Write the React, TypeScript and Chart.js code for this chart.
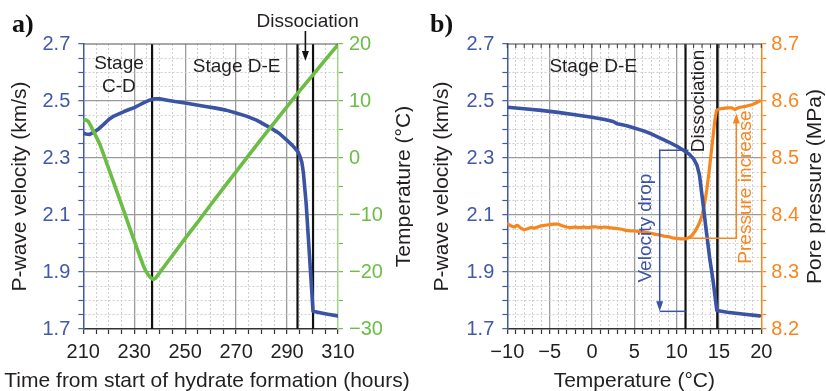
import React, { useEffect, useRef } from "react";
import { Chart, registerables } from "chart.js";
Chart.register(...registerables);

const FONT = '"Liberation Sans", Arial, Helvetica, sans-serif';
const SERIF = '"Liberation Serif", "Times New Roman", serif';
const BLUE = "#3a53a4";
const BLUE_AXIS = "#4159a9";
const GREEN = "#6cbd45";
const GREEN_AXIS = "#a3d68a";
const ORANGE = "#f7861f";
const INK = "#231f20";
const GRID_MAJOR = "#9b9b9b";
const GRID_MINOR = "#cfcfcf";

// ---------- Panel a: time (hours) ----------
const A_VEL_TIME = [210, 211, 212.5, 214, 216, 218, 220, 222, 224, 226, 228, 230, 232, 234, 236, 238, 240, 243, 246, 250, 254, 258, 262, 266, 270, 274, 278, 281, 284, 287, 290, 292, 294.3, 295.2, 295.8, 296.4, 296.9, 297.5, 298.5, 299.4, 300.2, 303, 306, 310];
const A_VEL = [2.388, 2.384, 2.383, 2.39, 2.402, 2.418, 2.435, 2.447, 2.455, 2.463, 2.47, 2.477, 2.486, 2.495, 2.503, 2.508, 2.508, 2.503, 2.498, 2.493, 2.487, 2.481, 2.475, 2.468, 2.458, 2.447, 2.433, 2.418, 2.403, 2.386, 2.362, 2.345, 2.322, 2.303, 2.285, 2.25, 2.2, 2.14, 2.0, 1.875, 1.762, 1.757, 1.752, 1.746];

const A_TEMP_TIME = [210, 211, 212, 213, 214, 215, 216.5, 218, 220, 222, 224, 226, 228, 230, 232, 233.5, 234.5, 235.5, 236.5, 237.5, 238.3, 239.2, 240, 245, 250, 255, 260, 265, 270, 275, 280, 285, 290, 295, 300, 305, 310];
const A_TEMP = [6.5, 6.7, 6.4, 5.6, 4.7, 3.8, 2.4, 0.6, -1.9, -4.4, -6.9, -9.4, -12.0, -14.5, -17.0, -18.8, -19.8, -20.5, -21.0, -21.3, -21.1, -20.6, -20.1, -17.1, -14.1, -11.2, -8.2, -5.3, -2.4, 0.5, 3.4, 6.2, 9.0, 11.8, 14.5, 17.2, 19.9];

const A_X_LABELS = [210, 230, 250, 270, 290, 310];
const V_LABELS = [1.7, 1.9, 2.1, 2.3, 2.5, 2.7];
const T_LABELS = [-30, -20, -10, 0, 10, 20];
const A_STAGE_LINES = [237, 294.1, 300.2];

// ---------- Panel b: temperature (°C) ----------
const B_TEMP = [-10, -8, -6, -4, -2, 0, 1.5, 2.5, 3, 4, 5, 6, 7, 8, 9, 10, 10.8, 11.5, 12, 12.4, 12.7, 12.95, 13.2, 13.5, 13.9, 14.3, 14.75, 16, 18, 19.8];
const B_VEL = [2.478, 2.473, 2.467, 2.46, 2.452, 2.443, 2.435, 2.428, 2.42, 2.414, 2.405, 2.396, 2.385, 2.371, 2.357, 2.342, 2.327, 2.313, 2.297, 2.275, 2.24, 2.18, 2.12, 2.045, 1.95, 1.87, 1.765, 1.759, 1.752, 1.746];

const B_P_TEMP = [-10, -9.6, -9.2, -8.8, -8.4, -8, -7.6, -7.2, -6.8, -6.4, -6, -5.5, -5, -4.5, -4, -3.5, -3, -2.5, -2, -1.5, -1, -0.5, 0, 0.5, 1, 1.5, 2, 2.5, 3, 3.5, 4, 4.5, 5, 5.5, 6, 6.5, 7, 7.5, 8, 8.5, 9, 9.5, 10, 10.5, 11, 11.4, 11.8, 12.2, 12.5, 12.8, 13.05, 13.3, 13.55, 13.8, 14.05, 14.3, 14.5, 14.7, 15, 15.5, 16, 16.5, 16.9, 17.1, 17.5, 18, 18.5, 19, 19.4, 19.8];
const B_PRES = [8.385, 8.381, 8.379, 8.382, 8.377, 8.374, 8.376, 8.378, 8.377, 8.379, 8.381, 8.382, 8.383, 8.384, 8.384, 8.381, 8.379, 8.378, 8.379, 8.378, 8.379, 8.378, 8.379, 8.379, 8.378, 8.379, 8.378, 8.377, 8.376, 8.375, 8.373, 8.372, 8.372, 8.371, 8.371, 8.369, 8.368, 8.366, 8.365, 8.363, 8.362, 8.36, 8.359, 8.358, 8.358, 8.36, 8.364, 8.372, 8.38, 8.39, 8.402, 8.42, 8.443, 8.472, 8.505, 8.537, 8.565, 8.583, 8.586, 8.587, 8.588, 8.588, 8.585, 8.587, 8.589, 8.59, 8.592, 8.594, 8.597, 8.6];

const B_X_LABELS = [-10, -5, 0, 5, 10, 15, 20];
const P_LABELS = [8.2, 8.3, 8.4, 8.5, 8.6, 8.7];
const B_STAGE_LINES = [11.05, 14.8];

// ---------- helpers ----------
const range = (a: number, b: number, s: number) =>
  Array.from({ length: Math.round((b - a) / s) + 1 }, (_, i) => Number((a + i * s).toFixed(6)));
const near = (a: number, b: number) => Math.abs(a - b) < 1e-6;
const inList = (v: any, list: number[]) => typeof v === "number" && list.some((l) => near(l, v));
const signed = (v: number) => (v < 0 ? "\u2212" + Math.abs(v) : String(v));

function makeAxis(o: any) {
  const horiz = o.position === "bottom";
  return {
    type: "linear",
    position: o.position,
    min: o.min,
    max: o.max,
    afterBuildTicks: (s: any) => {
      s.ticks = range(o.min, o.max, o.step).map((v) => ({ value: v }));
    },
    afterFit: (s: any) => {
      if (horiz) s.height = o.size;
      else s.width = o.size;
    },
    ticks: {
      autoSkip: false,
      maxRotation: 0,
      minRotation: 0,
      padding: o.padding,
      color: o.labelColor,
      font: { size: 20, family: FONT },
      callback: (v: number) => (inList(v, o.labels) ? o.fmt(v) : ""),
    },
    grid: {
      drawOnChartArea: o.gridOnArea,
      color: (c: any) => {
        const v = c.tick ? c.tick.value : undefined;
        if (v === undefined) return GRID_MINOR;
        if (near(v, o.min) || near(v, o.max)) return "rgba(0,0,0,0)";
        return inList(v, o.labels) ? GRID_MAJOR : GRID_MINOR;
      },
      lineWidth: (c: any) => (c.tick && inList(c.tick.value, o.labels) ? 1.3 : 1),
      drawTicks: true,
      tickLength: 5,
      tickColor: o.tickColor,
      tickWidth: 1.2,
      tickBorderDash: [],
    },
    border: {
      display: true,
      color: o.borderColor,
      width: 1.5,
      dash: (c: any) => (c.tick && !inList(c.tick.value, o.labels) ? [2, 2] : []),
    },
  };
}

function text(ctx: CanvasRenderingContext2D, s: string, x: number, y: number, font: string, color: string, rotate = 0, align: CanvasTextAlign = "center", baseline: CanvasTextBaseline = "middle") {
  ctx.save();
  ctx.translate(x, y);
  if (rotate) ctx.rotate(rotate);
  ctx.font = font;
  ctx.fillStyle = color;
  ctx.textAlign = align;
  ctx.textBaseline = baseline;
  ctx.fillText(s, 0, 0);
  ctx.restore();
}

function seg(ctx: CanvasRenderingContext2D, pts: number[][], color: string, width: number) {
  ctx.save();
  ctx.strokeStyle = color;
  ctx.lineWidth = width;
  ctx.lineJoin = "miter";
  ctx.beginPath();
  pts.forEach((p, i) => (i ? ctx.lineTo(p[0], p[1]) : ctx.moveTo(p[0], p[1])));
  ctx.stroke();
  ctx.restore();
}

function arrowHead(ctx: CanvasRenderingContext2D, x: number, y: number, dir: "up" | "down", w: number, h: number, color: string) {
  const s = dir === "down" ? -1 : 1;
  ctx.save();
  ctx.fillStyle = color;
  ctx.beginPath();
  ctx.moveTo(x, y);
  ctx.lineTo(x - w / 2, y + s * h);
  ctx.lineTo(x + w / 2, y + s * h);
  ctx.closePath();
  ctx.fill();
  ctx.restore();
}

const ANN = `19px ${FONT}`;
const TITLE = `21px ${FONT}`;
const PANEL = `bold 26px ${SERIF}`;

function stageLines(chart: any, values: number[]) {
  const { ctx, chartArea: ca, scales } = chart;
  values.forEach((v) => {
    const p = scales.x.getPixelForValue(v);
    seg(ctx, [[p, ca.top], [p, ca.bottom]], "#111", 2.2);
  });
}

const panelAPlugin = {
  id: "panelA",
  beforeDatasetsDraw(chart: any) {
    stageLines(chart, A_STAGE_LINES);
  },
  afterDraw(chart: any) {
    const { ctx, chartArea: ca, scales } = chart;
    const x = scales.x, y = scales.y;
    seg(ctx, [[ca.left, ca.top], [ca.right, ca.top]], "#555", 1.2);
    text(ctx, "a)", 12, 32, PANEL, "#111", 0, "left", "alphabetic");
    text(ctx, "Stage", x.getPixelForValue(224), y.getPixelForValue(2.632), ANN, INK);
    text(ctx, "C-D", x.getPixelForValue(224), y.getPixelForValue(2.55), ANN, INK);
    text(ctx, "Stage D-E", x.getPixelForValue(270.2), y.getPixelForValue(2.62), ANN, INK);
    text(ctx, "Dissociation", x.getPixelForValue(298.1), ca.top - 22, ANN, INK);
    const ax = x.getPixelForValue(297.2);
    const tip = y.getPixelForValue(2.64);
    seg(ctx, [[ax, ca.top - 13], [ax, tip - 8]], "#111", 1.6);
    arrowHead(ctx, ax, tip, "down", 7, 10, "#111");
    text(ctx, "P-wave velocity (km/s)", 20, (ca.top + ca.bottom) / 2, TITLE, INK, -Math.PI / 2);
    text(ctx, "Temperature (\u00b0C)", 404, (ca.top + ca.bottom) / 2, TITLE, INK, -Math.PI / 2);
    text(ctx, "Time from start of hydrate formation (hours)", 207, 381, TITLE, INK);
  },
};

const panelBPlugin = {
  id: "panelB",
  beforeDatasetsDraw(chart: any) {
    stageLines(chart, B_STAGE_LINES);
  },
  afterDraw(chart: any) {
    const { ctx, chartArea: ca, scales } = chart;
    const x = scales.x, y = scales.y, y1 = scales.y1;
    seg(ctx, [[ca.left, ca.top], [ca.right, ca.top]], "#444", 1.2);
    range(-10, 20, 1).forEach((v) => {
      const p = x.getPixelForValue(v);
      seg(ctx, [[p, ca.top], [p, ca.top + 4]], "#444", 1.1);
    });
    text(ctx, "b)", 17, 32, PANEL, "#111", 0, "left", "alphabetic");
    text(ctx, "Stage D-E", x.getPixelForValue(0.15), y.getPixelForValue(2.62), ANN, INK);
    text(ctx, "Dissociation", x.getPixelForValue(12.63), y.getPixelForValue(2.5), ANN, INK, -Math.PI / 2);

    // velocity drop bracket
    const bx = x.getPixelForValue(8);
    const bTop = y.getPixelForValue(2.327);
    const bBot = y.getPixelForValue(1.762);
    seg(ctx, [[x.getPixelForValue(11.4), bTop], [bx, bTop], [bx, bBot - 9]], BLUE, 1.5);
    seg(ctx, [[bx, bBot], [x.getPixelForValue(11.05), bBot]], BLUE, 1.5);
    arrowHead(ctx, bx, bBot, "down", 7, 10, BLUE);
    text(ctx, "Velocity drop", x.getPixelForValue(6.35), y.getPixelForValue(2.054), ANN, BLUE, -Math.PI / 2);

    // pressure increase bracket
    const px = x.getPixelForValue(17.05);
    const pBot = y1.getPixelForValue(8.359);
    const pTip = y1.getPixelForValue(8.578);
    seg(ctx, [[x.getPixelForValue(11.05), pBot], [px, pBot], [px, pTip + 9]], ORANGE, 1.5);
    arrowHead(ctx, px, pTip, "up", 7, 10, ORANGE);
    text(ctx, "Pressure increase", x.getPixelForValue(18.16), y1.getPixelForValue(8.449), ANN, ORANGE, -Math.PI / 2);

    text(ctx, "P-wave velocity (km/s)", 29, (ca.top + ca.bottom) / 2, TITLE, INK, -Math.PI / 2);
    text(ctx, "Pore pressure (MPa)", 402.5, (ca.top + ca.bottom) / 2, TITLE, INK, -Math.PI / 2);
    text(ctx, "Temperature (\u00b0C)", (ca.left + ca.right) / 2, 381, TITLE, INK);
  },
};

const lineDs = (label: string, xs: number[], ys: number[], axisId: string, color: string, width: number) => ({
  label,
  data: xs.map((v, i) => ({ x: v, y: ys[i] })),
  yAxisID: axisId,
  xAxisID: "x",
  borderColor: color,
  backgroundColor: color,
  borderWidth: width,
  pointRadius: 0,
  tension: 0,
  fill: false,
  borderJoinStyle: "round",
  borderCapStyle: "round",
});

const baseOptions = (scales: any) => ({
  responsive: false,
  animation: false,
  devicePixelRatio: 1,
  events: [],
  layout: { padding: { top: 44, left: 0, right: 0, bottom: 0 } },
  plugins: { legend: { display: false }, tooltip: { enabled: false } },
  scales,
});

function buildA(canvas: HTMLCanvasElement) {
  return new Chart(canvas, {
    type: "line",
    data: {
      datasets: [
        lineDs("Temperature", A_TEMP_TIME, A_TEMP, "y1", GREEN, 3.6),
        lineDs("P-wave velocity", A_VEL_TIME, A_VEL, "y", BLUE, 3.6),
      ],
    },
    options: baseOptions({
      x: makeAxis({ position: "bottom", min: 210, max: 310, step: 5, labels: A_X_LABELS, fmt: (v: number) => String(v), labelColor: INK, borderColor: "#333", tickColor: "#333", size: 62, padding: 6, gridOnArea: true }),
      y: makeAxis({ position: "left", min: 1.7, max: 2.7, step: 0.05, labels: V_LABELS, fmt: (v: number) => v.toFixed(1), labelColor: BLUE_AXIS, borderColor: BLUE_AXIS, tickColor: BLUE_AXIS, size: 83.3, padding: 8, gridOnArea: true }),
      y1: makeAxis({ position: "right", min: -30, max: 20, step: 5, labels: T_LABELS, fmt: signed, labelColor: GREEN, borderColor: GREEN_AXIS, tickColor: GREEN, size: 75, padding: 6, gridOnArea: false }),
    }) as any,
    plugins: [panelAPlugin],
  } as any);
}

function buildB(canvas: HTMLCanvasElement) {
  return new Chart(canvas, {
    type: "line",
    data: {
      datasets: [
        lineDs("P-wave velocity", B_TEMP, B_VEL, "y", BLUE, 3.6),
        lineDs("Pore pressure", B_P_TEMP, B_PRES, "y1", ORANGE, 3.2),
      ],
    },
    options: baseOptions({
      x: makeAxis({ position: "bottom", min: -10, max: 20, step: 1, labels: B_X_LABELS, fmt: signed, labelColor: INK, borderColor: "#333", tickColor: "#333", size: 62, padding: 6, gridOnArea: true }),
      y: makeAxis({ position: "left", min: 1.7, max: 2.7, step: 0.05, labels: V_LABELS, fmt: (v: number) => v.toFixed(1), labelColor: BLUE_AXIS, borderColor: BLUE_AXIS, tickColor: BLUE_AXIS, size: 94.3, padding: 8, gridOnArea: true }),
      y1: makeAxis({ position: "right", min: 8.2, max: 8.7, step: 0.025, labels: P_LABELS, fmt: (v: number) => v.toFixed(1), labelColor: ORANGE, borderColor: ORANGE, tickColor: ORANGE, size: 64.7, padding: 5, gridOnArea: false }),
    }) as any,
    plugins: [panelBPlugin],
  } as any);
}

function ChartCanvas({ build }: { build: (c: HTMLCanvasElement) => Chart }) {
  const ref = useRef<HTMLCanvasElement>(null);
  useEffect(() => {
    const chart = build(ref.current as HTMLCanvasElement);
    return () => chart.destroy();
  }, [build]);
  return <canvas ref={ref} width={413} height={391} style={{ display: "block", width: 413, height: 391 }} />;
}

export default function App() {
  return (
    <div style={{ position: "fixed", left: 0, top: 0, width: 826, height: 391, background: "#fff", display: "flex" }}>
      <ChartCanvas build={buildA} />
      <ChartCanvas build={buildB} />
    </div>
  );
}
